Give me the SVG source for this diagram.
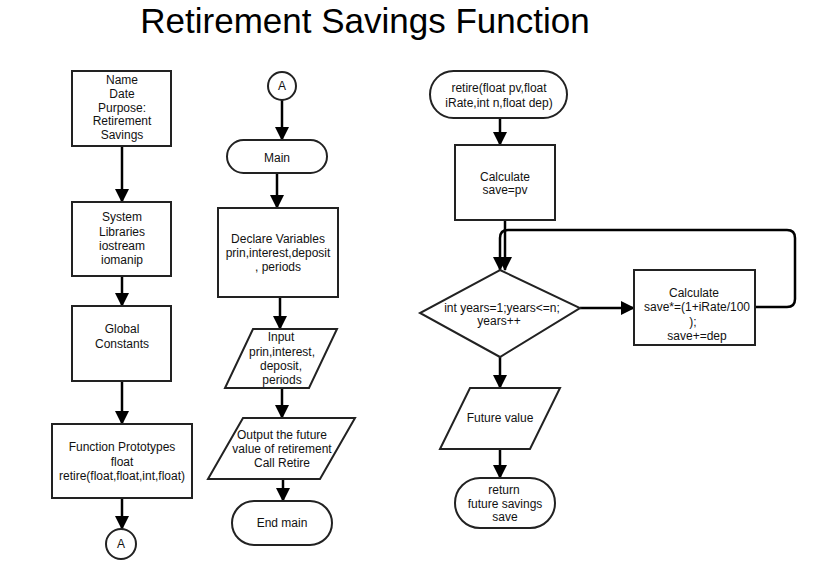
<svg xmlns="http://www.w3.org/2000/svg" width="819" height="579" viewBox="0 0 819 579">
<defs>
<marker id="ah" markerWidth="14" markerHeight="14" viewBox="0 0 14 14" refX="13" refY="7" orient="auto" markerUnits="userSpaceOnUse">
<path d="M0,0 L14,7 L0,14 Z" fill="#000"/>
</marker>
<style>
.s{fill:#fff;stroke:#222;stroke-width:2}
.t{font-family:"Liberation Sans",Arial,sans-serif;font-size:12px;fill:#111;text-anchor:middle}
.c{fill:none;stroke:#000;stroke-width:2.5;marker-end:url(#ah)}
</style>
</defs>
<rect width="819" height="579" fill="#fff"/>
<text x="365" y="33" style="font-family:'Liberation Sans',Arial,sans-serif;font-size:35px;fill:#000;text-anchor:middle">Retirement Savings Function</text>

<g id="connectors">
<path class="c" d="M122,146 V202"/>
<path class="c" d="M122,276 V306"/>
<path class="c" d="M122,381 V424"/>
<path class="c" d="M122,498 V529"/>
<path class="c" d="M282,100 V140"/>
<path class="c" d="M277,173 V208"/>
<path class="c" d="M280,297 V329"/>
<path class="c" d="M282,388 V418"/>
<path class="c" d="M283,479 V501"/>
<path class="c" d="M500,118 V145"/>
<path class="c" d="M505,220 V270"/>
<path class="c" d="M755,307 H787 Q795,307 795,299 V238 Q795,230 787,230 H508 Q500,230 500,238 V270"/>
<path class="c" d="M580,308 H634"/>
<path class="c" d="M500,357 V388"/>
<path class="c" d="M500,449 V478"/>
</g>

<g id="n-header">
<rect class="s" x="72" y="71" width="99" height="75"/>
<text class="t" x="122" y="84">Name</text>
<text class="t" x="122" y="98">Date</text>
<text class="t" x="122" y="112">Purpose:</text>
<text class="t" x="122" y="125">Retirement</text>
<text class="t" x="122" y="139">Savings</text>
</g>
<g id="n-libs">
<rect class="s" x="72" y="202" width="99" height="74"/>
<text class="t" x="122" y="221">System</text>
<text class="t" x="122" y="236">Libraries</text>
<text class="t" x="122" y="250">iostream</text>
<text class="t" x="122" y="264">iomanip</text>
</g>
<g id="n-globals">
<rect class="s" x="72" y="306" width="99" height="75"/>
<text class="t" x="122" y="333">Global</text>
<text class="t" x="122" y="348">Constants</text>
</g>
<g id="n-protos">
<rect class="s" x="52" y="424" width="140" height="74"/>
<text class="t" x="122" y="451">Function Prototypes</text>
<text class="t" x="122" y="466">float</text>
<text class="t" x="122" y="480">retire(float,float,int,float)</text>
</g>
<g id="n-conn-a1">
<circle class="s" cx="121" cy="544" r="15"/>
<text class="t" x="121" y="548">A</text>
</g>

<g id="n-conn-a2">
<circle class="s" cx="282" cy="86" r="14"/>
<text class="t" x="282" y="90">A</text>
</g>
<g id="n-main">
<rect class="s" x="227" y="140" width="100" height="33" rx="16.5"/>
<text class="t" x="277" y="162">Main</text>
</g>
<g id="n-declare">
<rect class="s" x="218" y="208" width="120" height="89"/>
<text class="t" x="278" y="243">Declare Variables</text>
<text class="t" x="278" y="257">prin,interest,deposit</text>
<text class="t" x="278" y="271">, periods</text>
</g>
<g id="n-input">
<polygon class="s" points="253,329 337,329 309,388 225,388"/>
<text class="t" x="281" y="341">Input</text>
<text class="t" x="282" y="356">prin,interest,</text>
<text class="t" x="281" y="370">deposit,</text>
<text class="t" x="282" y="384">periods</text>
</g>
<g id="n-output">
<polygon class="s" points="243,418 355,418 320,479 208,479"/>
<text class="t" x="282" y="439">Output the future</text>
<text class="t" x="282" y="453">value of retirement</text>
<text class="t" x="282" y="467">Call Retire</text>
</g>
<g id="n-endmain">
<rect class="s" x="232" y="501" width="100" height="44" rx="22"/>
<text class="t" x="282" y="527">End main</text>
</g>

<g id="n-retire">
<rect class="s" x="430" y="71" width="137" height="47" rx="23.5"/>
<text class="t" x="499" y="92">retire(float pv,float</text>
<text class="t" x="499" y="107">iRate,int n,float dep)</text>
</g>
<g id="n-calc1">
<rect class="s" x="455" y="145" width="100" height="75"/>
<text class="t" x="505" y="181">Calculate</text>
<text class="t" x="505" y="194">save=pv</text>
</g>
<g id="n-loop">
<polygon class="s" points="500,270 580,308 500,357 420,313"/>
<text class="t" x="502" y="312">int years=1;years&lt;=n;</text>
<text class="t" x="499" y="325">years++</text>
</g>
<g id="n-calc2">
<rect class="s" x="634" y="270" width="121" height="75"/>
<text class="t" x="694" y="297">Calculate</text>
<text class="t" x="697" y="311">save*=(1+iRate/100</text>
<text class="t" x="693" y="326">);</text>
<text class="t" x="697" y="340">save+=dep</text>
</g>
<g id="n-future">
<polygon class="s" points="470,388 560,388 530,449 440,449"/>
<text class="t" x="500" y="422">Future value</text>
</g>
<g id="n-return">
<rect class="s" x="455" y="478" width="100" height="50" rx="25"/>
<text class="t" x="504" y="494">return</text>
<text class="t" x="505" y="508">future savings</text>
<text class="t" x="505" y="521">save</text>
</g>
</svg>
